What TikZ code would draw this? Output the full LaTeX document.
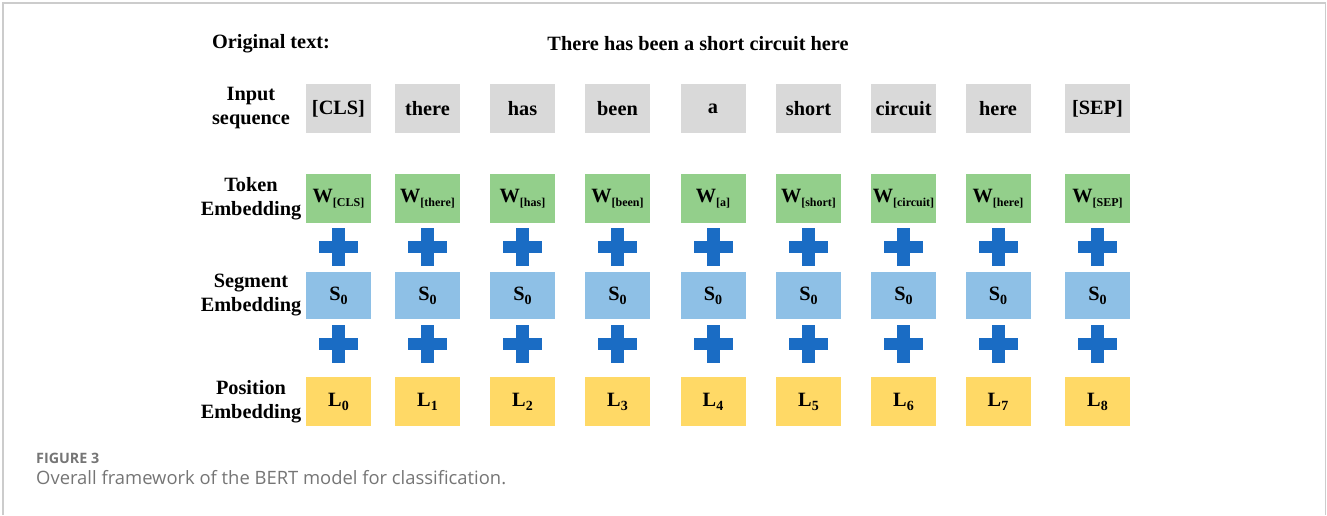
\documentclass[tikz,border=0pt]{standalone}
\usepackage{fontspec}
\setmainfont{Liberation Serif}
\newfontfamily\captionfont{Open Sans}
\usetikzlibrary{positioning}

\definecolor{tokgray}{HTML}{D9D9D9}
\definecolor{tokgreen}{HTML}{93CF8B}
\definecolor{segblue}{HTML}{8EC0E6}
\definecolor{posyellow}{HTML}{FFD966}
\definecolor{plusblue}{HTML}{1A6CC4}
\definecolor{framegray}{HTML}{CCCCCC}
\definecolor{capgray}{HTML}{757575}

% small lowered text for the indices
\newcommand{\wsub}[1]{\raisebox{-4pt}{\fontsize{12}{12}\selectfont #1}}
\newcommand{\nsub}[1]{\raisebox{-4pt}{\fontsize{14}{14}\selectfont #1}}

\tikzset{
  plain/.style={inner sep=0pt, font=\fontsize{20.3}{24}\selectfont\bfseries},
  rowlab/.style={plain, align=center},
  cell/.style={plain, minimum width=65pt, minimum height=49pt},
  addsign/.pic={
    \fill[plusblue] (-6.5,-19) rectangle (6.5,19);
    \fill[plusblue] (-19.5,-6) rectangle (19.5,6);
  }
}

\begin{document}
\begin{tikzpicture}[x=1pt,y=-1pt]
\useasboundingbox (0,0) rectangle (1327,515);

% frame
\draw[framegray, line width=1.2pt] (3,515) -- (3,3) -- (1325.5,3) -- (1325.5,515);

\node[plain] (orig) at (271,44) {Original text:};
\node[plain] (sent) at (698,44) {There has been a short circuit here};

% row labels
\node[rowlab] (lin)  at (251,108.5) {Input\\sequence};
\node[rowlab] (ltok) at (251,198.5) {Token\\Embedding};
\node[rowlab] (lseg) at (251,295.5) {Segment\\Embedding};
\node[rowlab] (lpos) at (251,401.5) {Position\\Embedding};

% one column per token
\foreach \i/\x/\tok/\w in {0/338.5/{[CLS]}/{[CLS]}, 1/427.5/there/{[there]},
    2/522.5/has/{[has]}, 3/617.5/been/{[been]}, 4/713/a/{[a]},
    5/808.5/short/{[short]}, 6/903.5/circuit/{[circuit]},
    7/998/here/{[here]}, 8/1097.5/{[SEP]}/{[SEP]}} {
  \node[cell, fill=tokgray] (in\i) at (\x,108.5) {\tok};
  \node[cell, fill=tokgreen] (tok\i) at (\x,198.5) {W\wsub{\w}};
  \node[cell, fill=segblue, minimum height=47pt] (seg\i) at (\x,295.5) {S\nsub{0}};
  \node[cell, fill=posyellow] (pos\i) at (\x,401.5) {L\nsub{\i}};
  \pic at (\x,247) {addsign};
  \pic at (\x,344) {addsign};
}

% caption
\node[anchor=base west, inner sep=0pt, text=capgray,
  font=\captionfont\bfseries\fontsize{14.3}{16}\selectfont] (fig) at (36,463) {FIGURE 3};
\node[anchor=base west, inner sep=0pt, text=capgray,
  font=\captionfont\fontsize{18.4}{20}\selectfont] (cap) at (36,484) {Overall framework of the BERT model for classification.};

\end{tikzpicture}
\end{document}
